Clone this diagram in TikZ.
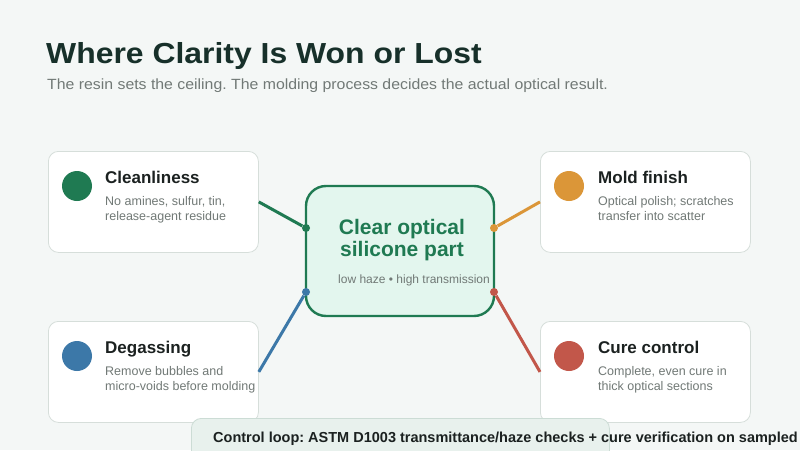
\documentclass[tikz,border=0pt]{standalone}
\usepackage{fontspec}
\setmainfont{Liberation Sans}
\frenchspacing
\usetikzlibrary{positioning}
\definecolor{fondo}{HTML}{F4F7F6}
\definecolor{tinta}{HTML}{17302A}
\definecolor{negro}{HTML}{1B2120}
\definecolor{gris}{HTML}{717976}
\definecolor{borde}{HTML}{D6DEDA}
\definecolor{verde}{HTML}{1F7A52}
\definecolor{naranja}{HTML}{DB9638}
\definecolor{azul}{HTML}{3C78A8}
\definecolor{rojo}{HTML}{C2574A}
\definecolor{menta}{HTML}{E3F6EE}
\definecolor{barra}{HTML}{E8F1ED}
\definecolor{bordebarra}{HTML}{CCDCD5}

\begin{document}
\begin{tikzpicture}[x=1pt,y=-1pt,
      tarjeta/.style={draw=borde,fill=white,rounded corners=10pt,line width=0.8pt,
                      minimum width=210pt,minimum height=101pt,anchor=north west},
      punto/.style={circle,inner sep=0pt,minimum size=30pt},
      titulo/.style={anchor=base west,inner sep=0pt,text=negro,
                     font=\fontsize{17}{20}\selectfont\bfseries},
      detalle/.style={anchor=north west,inner sep=0pt,align=left,text=gris,
                      font=\fontsize{12.5}{15}\selectfont},
      enlace/.style={line width=3pt},
      nudo/.style={circle,inner sep=0pt,minimum size=8pt}]
    \fill[fondo] (0,0) rectangle (800,450);
    \useasboundingbox (0,0) rectangle (800,450);

    % encabezado
    \node[anchor=base west,inner sep=0pt,text=tinta,
          font=\fontsize{29}{32}\selectfont\bfseries] (titular) at (46,63)
          {\scalebox{1.1}[1]{Where Clarity Is Won or Lost}};
    \node[anchor=base west,inner sep=0pt,text=gris,
          font=\fontsize{14.8}{18}\selectfont] (bajada) at (47,89)
          {\scalebox{1.07}[1]{The resin sets the ceiling. The molding process decides the actual optical result.}};

    % tarjetas
    \node[tarjeta] (limpieza) at (48,151) {};
    \node[tarjeta] (molde) at (540,151) {};
    \node[tarjeta] (gases) at (48,321) {};
    \node[tarjeta] (curado) at (540,321) {};

    \node[punto,fill=verde] (p1) at (77,186) {};
    \node[punto,fill=naranja] (p2) at (569,186) {};
    \node[punto,fill=azul] (p3) at (77,356) {};
    \node[punto,fill=rojo] (p4) at (569,356) {};

    \node[titulo] (t1) at (105,183) {Cleanliness};
    \node[detalle] (d1) at (105,196) {No amines, sulfur, tin,\\ release-agent residue};
    \node[titulo] (t2) at (598,183) {Mold finish};
    \node[detalle] (d2) at (598,196) {Optical polish; scratches\\ transfer into scatter};
    \node[titulo] (t3) at (105,353) {Degassing};
    \node[detalle] (d3) at (105,366) {Remove bubbles and\\ micro-voids before molding};
    \node[titulo] (t4) at (598,353) {Cure control};
    \node[detalle] (d4) at (598,366) {Complete, even cure in\\ thick optical sections};

    % pieza central
    \node[draw=verde,fill=menta,line width=2.4pt,rounded corners=20pt,
          minimum width=188pt,minimum height=130pt] (pieza) at (400,251) {};
    \node[align=center,inner sep=0pt,text=verde,anchor=base,
          font=\fontsize{21}{22}\selectfont\bfseries] (nombre) at (402,256)
          {Clear optical\\ silicone part};
    \node[anchor=base west,inner sep=0pt,text=gris,
          font=\fontsize{12}{14}\selectfont] (lema) at (338,283)
          {low haze \textbullet\ high transmission};

    \node[nudo,fill=verde] (n1) at (306,228) {};
    \node[nudo,fill=naranja] (n2) at (494,228) {};
    \node[nudo,fill=azul] (n3) at (306,292) {};
    \node[nudo,fill=rojo] (n4) at (494,292) {};

    \draw[enlace,verde] (limpieza.east) -- (n1);
    \draw[enlace,naranja] (molde.west) -- (n2);
    \draw[enlace,azul] (gases.east) -- (n3);
    \draw[enlace,rojo] (curado.west) -- (n4);

    % barra inferior
    \node[draw=bordebarra,fill=barra,line width=0.8pt,rounded corners=10pt,
          anchor=north west,minimum width=418pt,minimum height=50pt] (franja) at (191,418) {};
    \node[anchor=base west,inner sep=0pt,text=negro,
          font=\fontsize{14.5}{16}\selectfont\bfseries] (control) at (213,442)
          {Control loop: ASTM D1003 transmittance/haze checks + cure verification on sampled};
  \end{tikzpicture}
\end{document}
